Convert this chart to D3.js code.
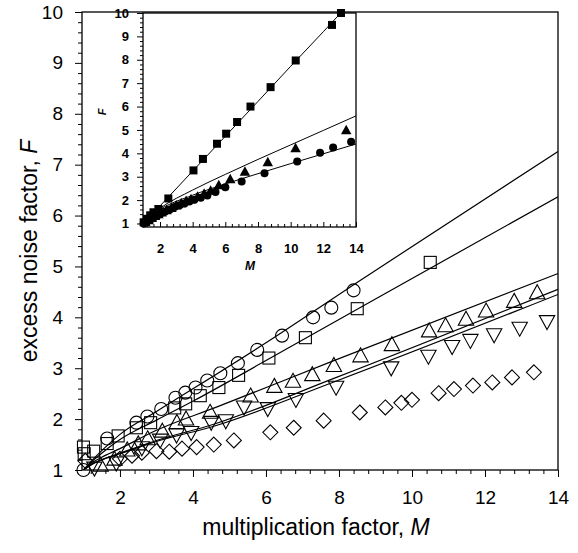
<!DOCTYPE html>
<html>
<head>
<meta charset="utf-8">
<script src="https://cdn.jsdelivr.net/npm/d3@7/dist/d3.min.js"></script>
<style>
  body { margin: 0; background: #fff; }
  text { font-family: "Liberation Sans", Arial, sans-serif; fill: #000; }
</style>
</head>
<body>
<div id="chart"></div>
<script>
// main plot data, [M, F]
const circles = [[1.0,1.0],[1.65,1.62],[2.45,1.93],[2.75,2.05],[3.13,2.2],[3.52,2.42],[3.79,2.52],
  [4.07,2.62],[4.39,2.76],[4.75,2.9],[5.23,3.1],[5.76,3.36],[6.44,3.64],[7.29,4.0],[7.79,4.19],[8.4,4.53]];
const squares = [[1.0,1.45],[1.02,1.32],[1.28,1.37],[1.65,1.52],[1.95,1.67],[2.45,1.83],[2.84,1.93],
  [3.5,2.22],[3.8,2.3],[4.2,2.46],[4.71,2.62],[5.25,2.86],[6.08,3.2],[7.08,3.6],[8.5,4.17],[10.5,5.08]];
const upTriangles = [[1.47,1.08],[1.85,1.2],[2.2,1.38],[2.5,1.5],[2.76,1.6],[3.16,1.75],[3.56,1.92],
  [3.81,1.99],[4.47,2.12],[5.58,2.44],[6.23,2.63],[6.74,2.73],[7.27,2.86],[7.86,3.04],[8.59,3.23],
  [9.45,3.45],[10.47,3.72],[10.92,3.82],[11.48,3.95],[12.03,4.11],[12.8,4.3],[13.43,4.47]];
const downTriangles = [[1.3,1.05],[1.9,1.15],[2.6,1.45],[3.1,1.6],[3.55,1.7],[3.95,1.75],[4.5,1.95],
  [4.9,1.98],[5.4,2.25],[6.05,2.22],[6.82,2.4],[7.92,2.64],[9.43,3.02],[10.45,3.25],[11.1,3.44],
  [11.6,3.56],[12.25,3.67],[12.95,3.8],[13.7,3.93]];
const diamonds = [[1.05,1.18],[2.0,1.22],[2.33,1.28],[2.6,1.34],[3.0,1.37],[3.35,1.36],[3.7,1.42],
  [4.1,1.45],[4.57,1.5],[5.12,1.58],[6.12,1.74],[6.76,1.83],[7.58,1.97],[8.57,2.13],[9.27,2.23],
  [9.71,2.32],[10.0,2.38],[10.73,2.51],[11.15,2.59],[11.67,2.66],[12.2,2.72],[12.74,2.82],[13.34,2.92]];

// fit curves
const fitCircles = [[1,1],[1.25,1.2],[1.5,1.38],[2,1.7],[3,2.15],[3.47,2.36],[6,3.5],[8.59,4.73],[14,7.26]];
const fitSquares = [[1,1],[1.25,1.18],[1.5,1.33],[2,1.6],[3,1.98],[4.02,2.36],[6,3.15],[8.95,4.34],[14,6.37]];
const fitUp = [[1,1],[1.25,1.15],[1.5,1.25],[2,1.42],[3,1.78],[4.66,2.24],[7.86,3.15],[14,4.86]];
const fitDownA = [[1,1],[1.25,1.12],[1.5,1.2],[2,1.33],[3,1.58],[4.57,1.9],[7.86,2.8],[14,4.55]];
const fitDownB = [[1,1],[1.25,1.12],[1.5,1.2],[2,1.32],[3,1.56],[4.57,1.86],[7.86,2.73],[14,4.45]];

// inset data
const insetSquares = [[1.0,1.05],[1.2,1.2],[1.4,1.35],[1.6,1.48],[1.9,1.62],[2.51,2.07],[4.05,3.27],
  [4.63,3.76],[5.49,4.41],[6.05,4.84],[6.72,5.34],[7.54,6.0],[8.77,6.83],[10.31,7.97],[12.53,9.49],[13.08,10.0]];
const insetTriangles = [[1.1,1.05],[1.3,1.12],[1.5,1.22],[1.7,1.3],[1.9,1.38],[2.1,1.45],[2.4,1.55],
  [2.7,1.65],[3.0,1.75],[3.3,1.85],[3.6,1.95],[3.9,2.02],[4.3,2.13],[4.7,2.25],[5.1,2.38],[5.6,2.62],
  [6.3,2.88],[7.2,3.2],[8.6,3.6],[10.3,4.2],[13.4,4.97]];
const insetCircles = [[1.0,1.0],[1.2,1.07],[1.4,1.15],[1.6,1.25],[1.8,1.32],[2.0,1.4],[2.3,1.5],
  [2.6,1.6],[2.9,1.7],[3.2,1.78],[3.5,1.86],[3.8,1.94],[4.1,2.02],[4.5,2.1],[4.9,2.2],[5.4,2.35],
  [6.0,2.55],[7.0,2.8],[8.4,3.15],[10.4,3.65],[11.8,4.02],[12.6,4.25],[13.7,4.5]];
const insetFitSquares = [[1,1],[1.5,1.37],[2,1.75],[2.5,2.12],[4,3.24],[6,4.73],[8,6.22],[10,7.72],[12,9.2],[13.4,10.25]];
const insetFitUpper = [[1,1],[1.5,1.38],[2,1.65],[4,2.43],[6,3.1],[8,3.74],[10,4.36],[12,4.98],[14,5.6]];
const insetFitLower = [[1,1],[1.5,1.36],[2,1.6],[4,2.21],[6,2.69],[8,3.13],[10,3.56],[12,3.98],[14,4.4]];

// tick labels
const xTicks = [2, 4, 6, 8, 10, 12, 14];
const yTicks = [1, 2, 3, 4, 5, 6, 7, 8, 9, 10];

const svgWidth = 578;
const svgHeight = 553;

const svg = d3.select("#chart").append("svg")
  .attr("width", svgWidth)
  .attr("height", svgHeight);

// minor tick positions
const xMinor = d3.range(3, 36).map(i => +(i * 0.4).toFixed(1)).filter(v => Math.abs(v - Math.round(v)) > 0.01 || Math.round(v) % 2);
const yMinor = d3.range(5, 51).map(i => +(i * 0.2).toFixed(1)).filter(v => Math.abs(v - Math.round(v)) > 0.01);

// marker shapes
const triUp = s => `M0,${-s * 0.62}L${s * 0.55},${s * 0.38}L${-s * 0.55},${s * 0.38}Z`;
const triDown = s => `M0,${s * 0.62}L${s * 0.55},${-s * 0.38}L${-s * 0.55},${-s * 0.38}Z`;
const diamond = s => `M0,${-s}L${s},0L0,${s}L${-s},0Z`;

function drawPlot(g, x, y, opts) {
  const left = x.range()[0], right = x.range()[1];
  const bottom = y.range()[0], top = y.range()[1];

  // minor ticks first
  g.append("g")
    .attr("transform", `translate(${left},0)`)
    .call(d3.axisLeft(y).tickValues(yMinor).tickSize(opts.yMinorSize).tickFormat(""))
    .call(a => a.select(".domain").remove());
  g.append("g")
    .attr("transform", `translate(0,${bottom})`)
    .call(d3.axisBottom(x).tickValues(xMinor).tickSizeInner(opts.xMinorSize).tickSizeOuter(0).tickFormat(""))
    .call(a => a.select(".domain").remove());

  const yAxis = g.append("g")
    .attr("transform", `translate(${left},0)`)
    .call(d3.axisLeft(y).tickValues(yTicks).tickSizeInner(opts.yTickSize).tickSizeOuter(0).tickPadding(opts.yPad));
  const xAxis = g.append("g")
    .attr("transform", `translate(0,${bottom})`)
    .call(d3.axisBottom(x).tickValues(xTicks).tickSizeInner(opts.xTickSize).tickSizeOuter(0).tickPadding(opts.xPad));

  [yAxis, xAxis].forEach(a => {
    a.selectAll("text")
      .style("font-size", opts.fontSize + "px")
      .style("font-weight", opts.bold ? "bold" : "normal");
    a.select(".domain").remove();
  });

  // frame
  g.append("rect")
    .attr("x", left).attr("y", top)
    .attr("width", right - left).attr("height", bottom - top)
    .attr("fill", "none").attr("stroke", "#000").attr("stroke-width", 1.3);
}

// ---------- main plot ----------
const x = d3.scaleLinear().domain([0.96, 14]).range([82, 558]);
const y = d3.scaleLinear().domain([1, 10]).range([470, 12]);

const mainG = svg.append("g");
drawPlot(mainG, x, y, {
  yTickSize: 7, yMinorSize: 4, xTickSize: 7, xMinorSize: 4,
  yPad: 12, xPad: 14, fontSize: 19, bold: false
});

svg.append("clipPath").attr("id", "mainClip")
  .append("rect").attr("x", 82).attr("y", 12).attr("width", 476).attr("height", 458);

const line = d3.line().x(d => x(d[0])).y(d => y(d[1])).curve(d3.curveMonotoneX);
const mainLines = mainG.append("g").attr("clip-path", "url(#mainClip)");
[fitCircles, fitSquares, fitUp, fitDownA, fitDownB].forEach(f => {
  mainLines.append("path")
    .attr("d", line(f))
    .attr("fill", "none")
    .attr("stroke", "#000")
    .attr("stroke-width", 1.2);
});

const marks = mainG.append("g")
  .attr("fill", "none").attr("stroke", "#000").attr("stroke-width", 1.1);

marks.selectAll(".dia").data(diamonds).enter().append("path")
  .attr("transform", d => `translate(${x(d[0])},${y(d[1])})`)
  .attr("d", diamond(7.5));
marks.selectAll(".tdn").data(downTriangles).enter().append("path")
  .attr("transform", d => `translate(${x(d[0])},${y(d[1])})`)
  .attr("d", triDown(14));
marks.selectAll(".tup").data(upTriangles).enter().append("path")
  .attr("transform", d => `translate(${x(d[0])},${y(d[1])})`)
  .attr("d", triUp(14));
marks.selectAll(".sq").data(squares).enter().append("rect")
  .attr("x", d => x(d[0]) - 6).attr("y", d => y(d[1]) - 6)
  .attr("width", 12).attr("height", 12);
marks.selectAll(".ci").data(circles).enter().append("circle")
  .attr("cx", d => x(d[0])).attr("cy", d => y(d[1]))
  .attr("r", 6.5);

// axis titles
svg.append("text")
  .attr("x", 316).attr("y", 535)
  .attr("text-anchor", "middle")
  .style("font-size", "23px")
  .text("multiplication factor, ")
  .append("tspan").style("font-style", "italic").text("M");

svg.append("text")
  .attr("transform", "translate(37,251) rotate(-90)")
  .attr("text-anchor", "middle")
  .style("font-size", "23px")
  .text("excess noise factor, ")
  .append("tspan").style("font-style", "italic").text("F");

// ---------- inset ----------
const ix = d3.scaleLinear().domain([0.96, 14]).range([143, 356]);
const iy = d3.scaleLinear().domain([0.85, 10]).range([227, 13]);

const insetG = svg.append("g");
insetG.append("rect")
  .attr("x", 143).attr("y", 13).attr("width", 213).attr("height", 214)
  .attr("fill", "#fff");

drawPlot(insetG, ix, iy, {
  yTickSize: 6, yMinorSize: 3, xTickSize: -5, xMinorSize: -3,
  yPad: 8, xPad: 17, fontSize: 13, bold: true
});

svg.append("clipPath").attr("id", "insetClip")
  .append("rect").attr("x", 143).attr("y", 13).attr("width", 213).attr("height", 214);

const iline = d3.line().x(d => ix(d[0])).y(d => iy(d[1])).curve(d3.curveMonotoneX);
const insetLines = insetG.append("g").attr("clip-path", "url(#insetClip)");
[insetFitSquares, insetFitUpper, insetFitLower].forEach(f => {
  insetLines.append("path")
    .attr("d", iline(f))
    .attr("fill", "none")
    .attr("stroke", "#000")
    .attr("stroke-width", 1);
});

const imarks = insetG.append("g").attr("fill", "#000");
imarks.selectAll(".ici").data(insetCircles).enter().append("circle")
  .attr("cx", d => ix(d[0])).attr("cy", d => iy(d[1]))
  .attr("r", 4);
imarks.selectAll(".itr").data(insetTriangles).enter().append("path")
  .attr("transform", d => `translate(${ix(d[0])},${iy(d[1])})`)
  .attr("d", triUp(9.5));
imarks.selectAll(".isq").data(insetSquares).enter().append("rect")
  .attr("x", d => ix(d[0]) - 4).attr("y", d => iy(d[1]) - 4)
  .attr("width", 8).attr("height", 8);

svg.append("text")
  .attr("x", 250).attr("y", 270)
  .attr("text-anchor", "middle")
  .style("font-size", "12px")
  .style("font-style", "italic")
  .style("font-weight", "bold")
  .text("M");

svg.append("text")
  .attr("transform", "translate(106,112) rotate(-90)")
  .attr("text-anchor", "middle")
  .style("font-size", "11px")
  .style("font-style", "italic")
  .style("font-weight", "bold")
  .text("F");
</script>
</body>
</html>
